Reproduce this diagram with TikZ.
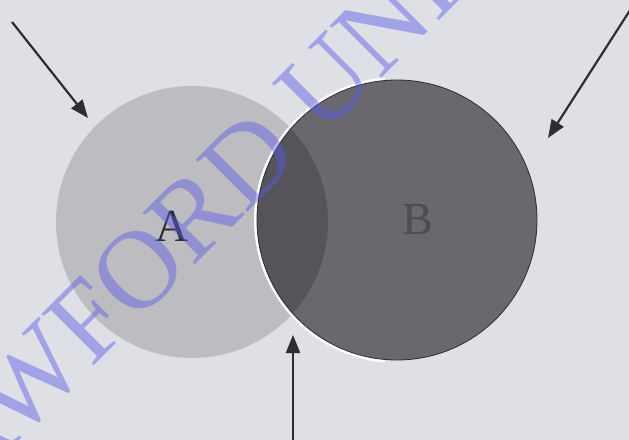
\documentclass[tikz,border=0pt]{standalone}
\usepackage{fontspec}
\setmainfont{Liberation Serif}
\usepackage{tikz}
\usetikzlibrary{arrows.meta}
\definecolor{paper}{RGB}{222,224,230}
\definecolor{setA}{RGB}{188,188,193}
\definecolor{setB}{RGB}{104,104,110}
\definecolor{setAB}{RGB}{84,84,90}
\definecolor{inkdark}{RGB}{45,45,50}
\definecolor{stamp}{RGB}{90,90,230}

\begin{document}
\begin{tikzpicture}[x=0.5pt, y=-0.5pt,
  pointer/.style={-{Triangle[length=9pt,width=7pt]}, line width=1.1pt, draw=inkdark, fill=inkdark!75},
  setlbl/.style={font=\fontsize{23}{23}\selectfont, inner sep=0pt},
  stamptext/.style={font=\fontsize{56}{56}\selectfont, text=stamp, text opacity=0.45, inner sep=0pt}
]
  \useasboundingbox (0,0) rectangle (629,440);
  \fill[paper] (0,0) rectangle (629,440);
  \clip (0,0) rectangle (629,440);

  % the two sets
  \coordinate (cA) at (192,222);
  \coordinate (cB) at (397,220);
  \fill[setA] (cA) circle (68pt);
  \draw[white, line width=3pt] ([shift={(95:70pt)}]cB) arc (95:265:70pt);
  \fill[setB] (cB) circle (70pt);
  \begin{scope}
    \clip (cA) circle (68pt);
    \fill[setAB] (cB) circle (70pt);
  \end{scope}
  \draw[inkdark, line width=0.4pt] (cB) circle (70pt);

  \node[setlbl, text=inkdark] (lblA) at (172,226) {A};
  \node[setlbl, text=inkdark!85] (lblB) at (418,220) {B};

  % pointers
  \coordinate (tailA) at (12,22);
  \coordinate (tipA) at (88,118);
  \coordinate (tailB) at (634,4);
  \coordinate (tipB) at (548,138);
  \coordinate (tailAB) at (293,446);
  \coordinate (tipAB) at (293,335);
  \draw[pointer] (tailA) -- (tipA);
  \draw[pointer] (tailB) -- (tipB);
  \draw[pointer] (tailAB) -- (tipAB);

  % watermark
  \node[stamptext, rotate=45, anchor=base west] (stampmark) at (-140,600) {CRAWFORD UNIVERSITY};
\end{tikzpicture}
\end{document}
